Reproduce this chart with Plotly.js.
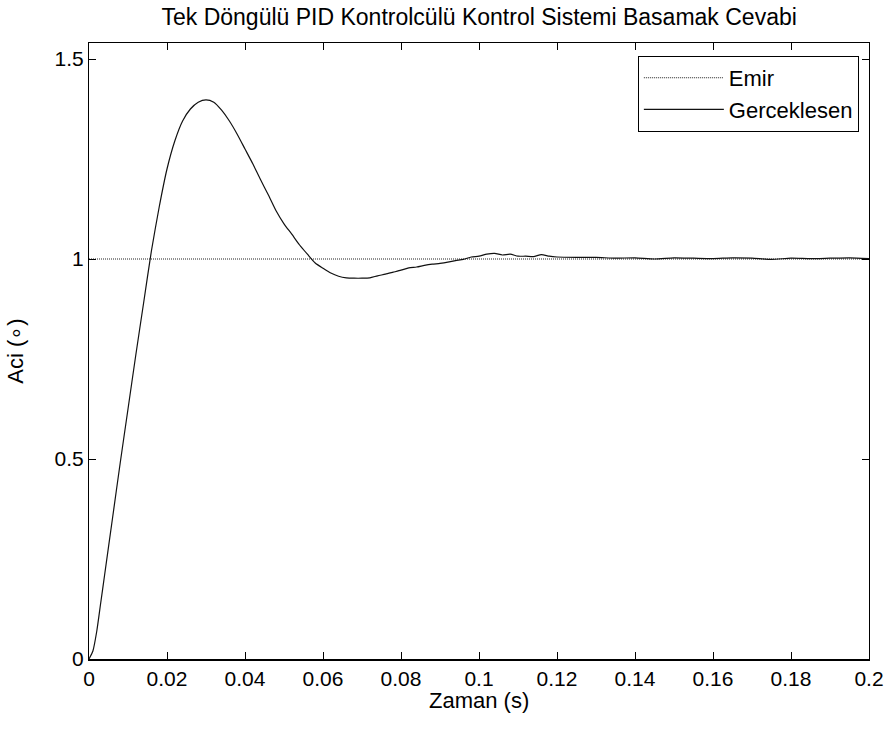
<!DOCTYPE html>
<html>
<head>
<meta charset="utf-8">
<script src="https://cdn.plot.ly/plotly-3.0.1.min.js"></script>
<style>html,body{margin:0;padding:0;background:#fff;}#chart{width:889px;height:731px;}</style>
</head>
<body>
<div id="chart"></div>
<script>
var timeS = [0, 0.001, 0.002, 0.003, 0.004, 0.006, 0.008, 0.010, 0.012, 0.014, 0.016, 0.018, 0.020,
  0.022, 0.024, 0.026, 0.028, 0.030, 0.032, 0.034, 0.036, 0.038, 0.040, 0.042, 0.044, 0.046, 0.048,
  0.050, 0.052, 0.054, 0.056, 0.058, 0.060, 0.062, 0.064, 0.066, 0.068, 0.070, 0.072, 0.074, 0.076,
  0.078, 0.080, 0.082, 0.084, 0.086, 0.088, 0.090, 0.092, 0.094, 0.096, 0.098, 0.100, 0.102, 0.104,
  0.106, 0.108, 0.110, 0.112, 0.114, 0.116, 0.118, 0.120, 0.125, 0.130, 0.135, 0.140, 0.145, 0.150,
  0.155, 0.160, 0.165, 0.170, 0.175, 0.180, 0.185, 0.190, 0.195, 0.200];
var gerceklesen = [0, 0.02, 0.07, 0.14, 0.21, 0.35, 0.49, 0.625, 0.76, 0.89, 1.02, 1.13, 1.225,
  1.295, 1.345, 1.375, 1.392, 1.398, 1.392, 1.372, 1.345, 1.312, 1.275, 1.238, 1.198, 1.16, 1.12,
  1.088, 1.062, 1.035, 1.012, 0.99, 0.977, 0.965, 0.957, 0.953, 0.952, 0.952, 0.953, 0.958, 0.962,
  0.967, 0.972, 0.978, 0.98, 0.984, 0.987, 0.989, 0.992, 0.996, 0.999, 1.005, 1.007, 1.012, 1.014,
  1.01, 1.012, 1.007, 1.007, 1.006, 1.011, 1.007, 1.005, 1.004, 1.004, 1.002, 1.003, 1.0, 1.003,
  1.002, 1.001, 1.003, 1.002, 0.999, 1.002, 1.001, 1.002, 1.003, 1.001];
var emirT = [0, 0.2];
var emir = [1, 1];
var xTicks = [0, 0.02, 0.04, 0.06, 0.08, 0.1, 0.12, 0.14, 0.16, 0.18, 0.2];
var xTickText = ['0', '0.02', '0.04', '0.06', '0.08', '0.1', '0.12', '0.14', '0.16', '0.18', '0.2'];
var yTicks = [0, 0.5, 1, 1.5];
var yTickText = ['0', '0.5', '1', '1.5'];

var FONT = 'Liberation Sans, Arial, Helvetica, sans-serif';
var traces = [
  {x: emirT, y: emir, name: 'Emir', type: 'scatter', mode: 'lines',
   line: {color: '#222', width: 1, dash: '1px,1px'}},
  {x: timeS, y: gerceklesen, name: 'Gerceklesen', type: 'scatter', mode: 'lines',
   line: {color: '#111', width: 1.2, shape: 'spline', smoothing: 0.6}}
];
var layout = {
  width: 889, height: 731,
  margin: {l: 89, r: 20, t: 43, b: 72},
  paper_bgcolor: '#fff', plot_bgcolor: '#fff',
  font: {family: FONT, size: 21, color: '#000'},
  title: {text: 'Tek Döngülü PID Kontrolcülü Kontrol Sistemi Basamak Cevabi',
          font: {family: FONT, size: 23, color: '#000'}, x: 0.539, xanchor: 'center', y: 0.977, yanchor: 'middle'},
  xaxis: {range: [0, 0.2], tickvals: xTicks, ticktext: xTickText, ticks: 'inside', ticklen: 7,
          tickcolor: '#000', showline: true, linecolor: '#000', linewidth: 1.5, mirror: 'ticks',
          showgrid: false, zeroline: false, tickfont: {family: FONT, size: 21}},
  yaxis: {range: [0, 1.54], tickvals: yTicks, ticktext: yTickText, ticks: 'inside', ticklen: 7,
          tickcolor: '#000', showline: true, linecolor: '#000', linewidth: 1, mirror: 'ticks',
          showgrid: false, zeroline: false, tickfont: {family: FONT, size: 21},
          title: {text: 'Aci (∘)', font: {family: FONT, size: 22}, standoff: 24}},
  annotations: [
    {text: 'Zaman (s)', xref: 'paper', yref: 'paper', x: 0.5, y: 0, xanchor: 'center', yanchor: 'middle',
     yshift: -41, showarrow: false, font: {family: FONT, size: 22, color: '#000'}}
  ],
  legend: {x: 0.987, xanchor: 'right', y: 0.979, yanchor: 'top', bgcolor: '#fff',
           bordercolor: '#000', borderwidth: 1, font: {family: FONT, size: 22}, itemwidth: 80,
           tracegroupgap: 0},
  showlegend: true
};
Plotly.newPlot('chart', traces, layout, {displayModeBar: false, staticPlot: true});
</script>
</body>
</html>
